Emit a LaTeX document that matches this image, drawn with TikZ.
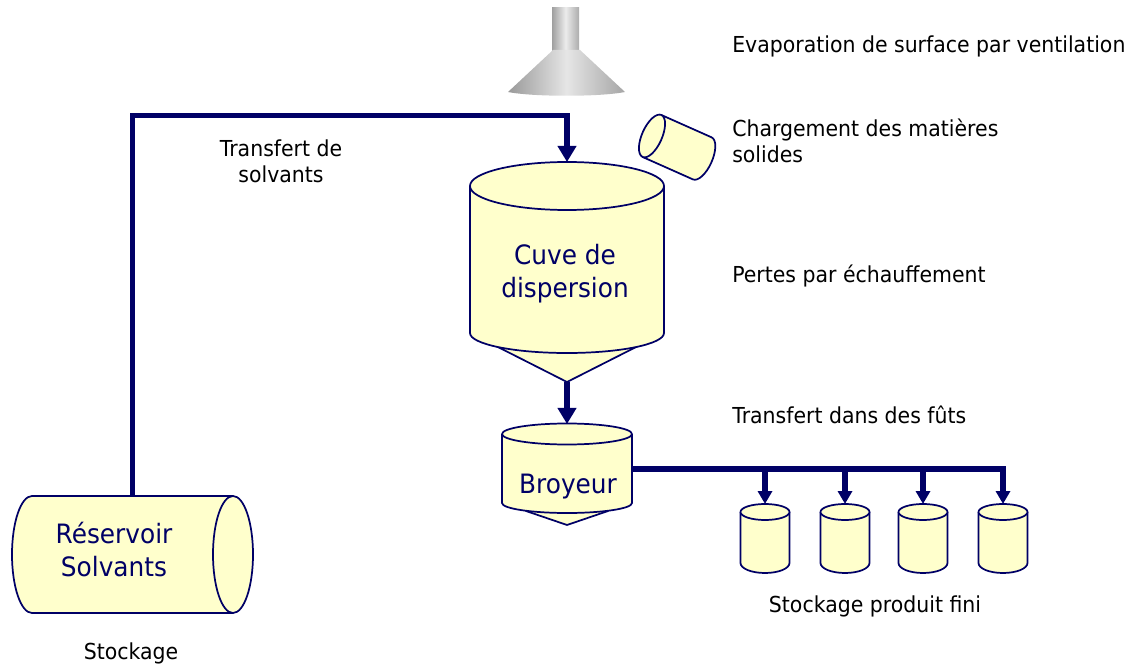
\documentclass[tikz,border=0pt]{standalone}
\usepackage{fontspec}
\setmainfont{DejaVu Sans}[FakeStretch=0.93]
\usetikzlibrary{arrows.meta}
\usetikzlibrary{positioning}

\definecolor{navy}{HTML}{000066}
\definecolor{cream}{HTML}{FFFFCC}

\tikzset{
  vessel/.style={draw=navy,fill=cream,line width=1.3pt,line join=round},
  pipe/.style={draw=navy,line width=3.9pt,line join=miter},
  feed/.style={pipe,-{Triangle[width=13.5pt,length=12pt]}},
  drumfeed/.style={pipe,-{Triangle[width=10.5pt,length=9.75pt]}},
  note/.style={inner sep=0,anchor=base west,font=\fontsize{16.5}{19.5}\selectfont},
  tag/.style={inner sep=0,anchor=base,text=navy,align=center,font=\fontsize{20}{24.75}\selectfont},
}

\begin{document}
\begin{tikzpicture}[x=0.75pt,y=0.75pt]
\useasboundingbox (0,0) rectangle (1135,-666);

% hotte
\shade[left color=gray!75,right color=gray!65,middle color=gray!15] (552,-8) rectangle (579,-52);
\shade[left color=gray!80,right color=gray!70,middle color=gray!20] (553,-50) -- (580,-50) -- (625,-92) .. controls (600,-97) and (533,-97) .. (508,-92) -- cycle;

% cuve de dispersion
\filldraw[vessel] (490,-343) -- (567,-382) -- (644,-343) -- cycle;
\filldraw[vessel] (470,-186) -- (470,-333) arc[start angle=180,end angle=360,x radius=97,y radius=20] -- (664,-186);
\filldraw[vessel] (567,-186) ellipse[x radius=97,y radius=24];
\coordinate (cuve top) at (567,-162);
\coordinate (cuve tip) at (567,-382);

% broyeur
\filldraw[vessel] (526,-511) -- (567,-525) -- (608,-511) -- cycle;
\filldraw[vessel] (502,-434) -- (502,-503) arc[start angle=180,end angle=360,x radius=65,y radius=10] -- (632,-434);
\filldraw[vessel] (567,-434) ellipse[x radius=65,y radius=10.5];
\coordinate (broyeur top) at (567,-424);
\coordinate (broyeur out) at (632,-469);

% reservoir
\filldraw[vessel] (233,-496) -- (32,-496) arc[start angle=90,end angle=270,x radius=20,y radius=58.5] -- (233,-613);
\filldraw[vessel] (233,-554.5) ellipse[x radius=20,y radius=58.5];
\coordinate (res top) at (132.5,-496);

% matieres solides
\begin{scope}[shift={(652,-136)},rotate=-24]
\filldraw[vessel] (0,23) -- (55,23) arc[start angle=90,end angle=-90,x radius=10,y radius=23] -- (0,-23);
\filldraw[vessel] (0,0) ellipse[x radius=10,y radius=23];
\end{scope}

% futs
\foreach \x [count=\i] in {765,845,923,1003} {
  \filldraw[vessel] (\x-24.5,-512) -- (\x-24.5,-563) arc[start angle=180,end angle=360,x radius=24.5,y radius=10] -- (\x+24.5,-512);
  \filldraw[vessel] (\x,-512) ellipse[x radius=24.5,y radius=8];
  \coordinate (drum\i) at (\x,-504);
}

% tuyauteries
\coordinate (pipe level) at (0,-115.5);
\draw[feed] (res top) -- (res top |- pipe level) -- (cuve top |- pipe level) -- (cuve top);
\draw[feed] (cuve tip) -- (broyeur top);
\draw[drumfeed] (broyeur out) -| (drum4);
\foreach \i in {1,2,3}
  \draw[drumfeed] (drum\i |- broyeur out) -- (drum\i);

% textes (base = derniere ligne)
\node[tag] (cuve label) at (565,-298) {Cuve de\\dispersion};
\node[tag] (broyeur label) at (568,-493) {Broyeur};
\node[tag] (res label) at (114,-576) {Réservoir\\Solvants};

\node[note] (evap) at (732,-52.7) {Evaporation de surface par ventilation};
\node[note,align=left] (charge) at (732,-163) {Chargement des matières\\solides};
\node[note] (pertes) at (732,-283) {Pertes par échauffement};
\node[note] (futs) at (732,-423) {Transfert dans des fûts};
\node[note,anchor=base,align=center] (transfert) at (281,-183) {Transfert de\\solvants};
\node[note,anchor=base] (produit) at (875,-612) {Stockage produit fini};
\node[note,anchor=base] (stockage) at (131,-659) {Stockage};
\end{tikzpicture}
\end{document}
